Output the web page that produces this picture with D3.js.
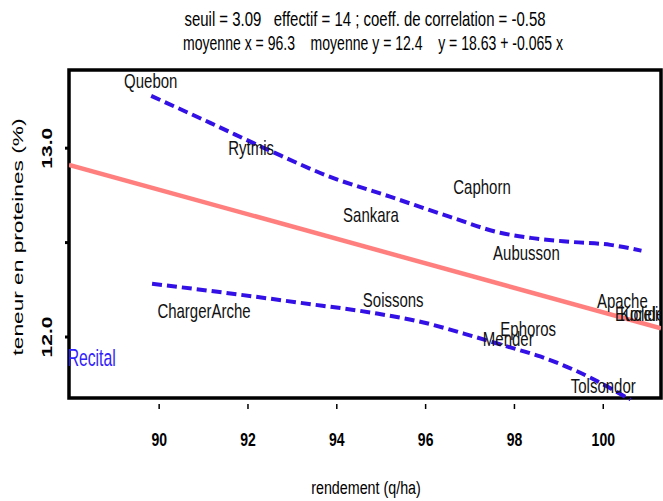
<!DOCTYPE html>
<html><head><meta charset="utf-8">
<script src="https://cdn.jsdelivr.net/npm/d3@7"></script>
<style>body{margin:0;background:#fff}svg{display:block}text{font-family:"Liberation Sans",Arial,sans-serif}</style>
</head><body>
<svg id="c" width="663" height="501"></svg>
<script>
// ---- data ----
const names    = ["Quebon","Rytmis","Caphorn","Sankara","Aubusson","ChargerArche","Soissons","Ephoros","Mender","Apache","Euclide","Koreli","Tolsondor","Recital"];
const yields   = [89.81, 92.07, 97.27, 94.77, 98.27, 91.01, 95.27, 98.31, 97.86, 100.43, 100.82, 100.81, 100.0, 88.48];
const proteins = [13.345, 12.991, 12.785, 12.636, 12.435, 12.129, 12.187, 12.033, 11.98, 12.181, 12.113, 12.113, 11.732, 11.875];
const outliers = ["Recital"];
const upperX = [89.82, 91.15, 92.50, 93.85, 95.20, 96.55, 97.68, 98.36, 99.26, 100.16, 100.86];
const upperY = [13.277, 13.134, 12.986, 12.848, 12.743, 12.636, 12.552, 12.525, 12.504, 12.488, 12.457];
const lowerX = [89.84, 91.82, 93.18, 94.83, 95.88, 97.08, 97.83, 98.58, 99.33, 100.08, 100.61];
const lowerY = [12.282, 12.224, 12.181, 12.127, 12.081, 12.003, 11.950, 11.897, 11.827, 11.739, 11.668];
const intercept = 18.63, slope = -0.065;
const xTicks = [90, 92, 94, 96, 98, 100];
const yTicks = [12, 12.5, 13];
const yTickLabels = ["12.0", "", "13.0"];
const titleLines = ["seuil = 3.09   effectif = 14 ; coeff. de correlation = -0.58",
                    "moyenne x = 96.3    moyenne y = 12.4    y = 18.63 + -0.065 x"];
const xTitle = "rendement (q/ha)";
const yTitle = "teneur en proteines (%)";

// ---- layout ----
const L = 69, R = 661, T = 70, B = 398;
const K = 1.33; // vertical text stretch
const svg = d3.select("#c");
const x = d3.scaleLinear().domain([87.97, 101.3]).range([L, R]);
const y = d3.scaleLinear().domain([11.677, 13.414]).range([B, T]);

svg.append("defs").append("clipPath").attr("id","clip")
  .append("rect").attr("x", L).attr("y", T).attr("width", R - L).attr("height", B - T + 3);

// title
const tl = [[365, 26, 361], [373, 50, 380]];
titleLines.forEach((s, i) => {
  svg.append("g").attr("transform", `translate(${tl[i][0]},${tl[i][1]}) scale(1,${K})`)
    .append("text").attr("text-anchor","middle").attr("font-size", 15)
    .style("white-space","pre").attr("xml:space","preserve")
    .attr("textLength", tl[i][2]).attr("lengthAdjust","spacingAndGlyphs").text(s);
});

// frame
svg.append("rect").attr("x", L).attr("y", T).attr("width", R - L).attr("height", B - T)
  .attr("fill","none").attr("stroke","#000").attr("stroke-width", 3.5);

// x ticks
xTicks.forEach(v => {
  svg.append("line").attr("x1", x(v)).attr("x2", x(v)).attr("y1", B + 6).attr("y2", B + 11)
    .attr("stroke","#000").attr("stroke-width", 1.5);
  svg.append("g").attr("transform", `translate(${x(v)},446) scale(1,1.3)`)
    .append("text").attr("text-anchor","middle").attr("font-size", 14).attr("font-weight","bold").text(v);
});
// y ticks
yTicks.forEach((v, i) => {
  svg.append("line").attr("x1", L - 4).attr("x2", L).attr("y1", y(v)).attr("y2", y(v))
    .attr("stroke","#000").attr("stroke-width", 3);
  if (yTickLabels[i]) {
    svg.append("text").attr("transform", `translate(52,${y(v)}) rotate(-90)`)
      .attr("text-anchor","middle").attr("font-size", 15.5).attr("font-weight","bold")
      .attr("textLength", 41).attr("lengthAdjust","spacingAndGlyphs").text(yTickLabels[i]);
  }
});

// axis titles
svg.append("g").attr("transform", `translate(366,494) scale(1,1.3)`)
  .append("text").attr("text-anchor","middle").attr("font-size", 14.3).text(xTitle);
svg.append("text").attr("transform", `translate(23,237) rotate(-90)`)
  .attr("text-anchor","middle").attr("font-size", 15.5)
  .attr("textLength", 237).attr("lengthAdjust","spacingAndGlyphs").text(yTitle);

const plot = svg.append("g").attr("clip-path","url(#clip)");

// regression line
const xd = x.domain();
plot.append("line")
  .attr("x1", x(xd[0])).attr("y1", y(intercept + slope * xd[0]))
  .attr("x2", x(xd[1])).attr("y2", y(intercept + slope * xd[1]))
  .attr("stroke","#ff7f7f").attr("stroke-width", 4.5);

// confidence bands
const line = d3.line().x(d => x(d[0])).y(d => y(d[1])).curve(d3.curveMonotoneX);
[[upperX, upperY], [lowerX, lowerY]].forEach(([xs, ys]) => {
  plot.append("path").datum(xs.map((v, i) => [v, ys[i]])).attr("d", line)
    .attr("fill","none").attr("stroke","#3311e6").attr("stroke-width", 4)
    .attr("stroke-dasharray","10,5");
});

// labels
names.forEach((n, i) => {
  const out = outliers.includes(n);
  const t = plot.append("g").attr("transform", `translate(${x(yields[i])},${y(proteins[i]) + 5}) scale(1,${out ? 1.5 : K})`)
    .append("text").attr("text-anchor","middle").attr("font-size", out ? 16.5 : 15)
    .attr("fill", out ? "#3322ff" : "#111").text(n);
  if (out) t.attr("textLength", 48).attr("lengthAdjust","spacingAndGlyphs");
});
</script>
</body></html>
